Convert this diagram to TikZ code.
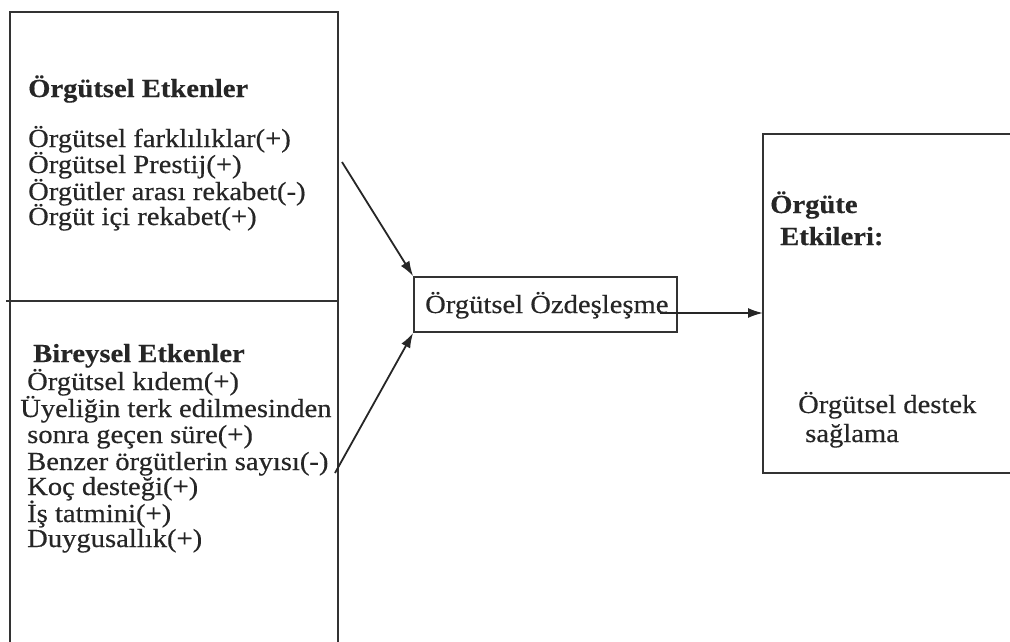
\documentclass[tikz,border=0pt]{standalone}
\usepackage{fontspec}
\setmainfont[FakeStretch=1.1,FakeBold=0.4,BoldFont={Liberation Serif Bold},BoldFeatures={FakeStretch=1.1}]{Liberation Serif}
\usetikzlibrary{arrows.meta}
\begin{document}
\begin{tikzpicture}[x=1pt,y=-1pt,
  frame/.style={draw=black!80,line width=1.7pt},
  txt/.style={anchor=base west,inner sep=0pt,font=\fontsize{26}{26}\selectfont,text=black!85},
  btxt/.style={txt,font=\fontsize{26}{26}\selectfont\bfseries},
  conn/.style={draw=black!85,line width=1.8pt,-{Latex[length=15pt,width=10pt]}}]
\useasboundingbox[fill=white] (0,0) rectangle (1010,642);
% left box
\draw[frame] (10,660) -- (10,12) -- (338,12) -- (338,660);
\draw[frame] (6,301) -- (338,301);
% right box
\draw[frame] (1020,134) -- (763,134) -- (763,473) -- (1020,473);
\coordinate (rbw) at (763,313);
% middle box
\node[frame,minimum width=263pt,minimum height=55pt,inner sep=0pt] (mid) at (545.5,304.5) {};
\node[txt] (midt) at (425,313) {Örgütsel Özdeşleşme};
% top section texts
\node[btxt] (h1) at (28,97) {Örgütsel Etkenler};
\node[txt] (a1) at (28,147) {Örgütsel farklılıklar(+)};
\node[txt] (a2) at (28,173) {Örgütsel Prestij(+)};
\node[txt] (a3) at (28,200) {Örgütler arası rekabet(-)};
\node[txt] (a4) at (28,225) {Örgüt içi rekabet(+)};
% bottom section texts
\node[btxt] (h2) at (33,362) {Bireysel Etkenler};
\node[txt] (b1) at (27,390) {Örgütsel kıdem(+)};
\node[txt] (b2) at (20,417) {Üyeliğin terk edilmesinden};
\node[txt] (b3) at (27,443) {sonra geçen süre(+)};
\node[txt] (b4) at (27,470) {Benzer örgütlerin sayısı(-)};
\node[txt] (b5) at (27,495) {Koç desteği(+)};
\node[txt] (b6) at (27,522) {İş tatmini(+)};
\node[txt] (b7) at (27,547) {Duygusallık(+)};
% right box texts
\node[btxt] (r1) at (770,213) {Örgüte};
\node[btxt] (r2) at (780,245) {Etkileri:};
\node[txt] (r3) at (798,413) {Örgütsel destek};
\node[txt] (r4) at (805,442) {sağlama};
% connectors
\coordinate (s1) at (342,162);
\coordinate (s2) at (335,473);
\coordinate (s3) at (660,313);
\draw[conn] (s1) -- (mid.north west);
\draw[conn] (s2) -- (mid.south west);
\draw[conn] (s3) -- (rbw);
\end{tikzpicture}
\end{document}
